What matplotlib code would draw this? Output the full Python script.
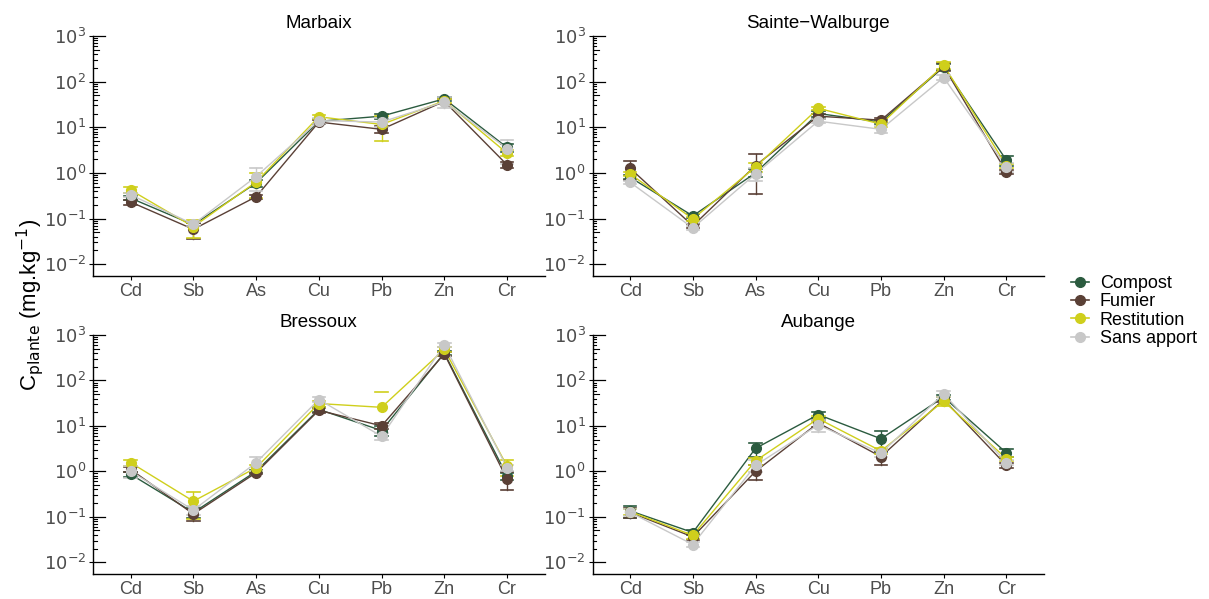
import numpy as np
import matplotlib
matplotlib.use("Agg")
import matplotlib.pyplot as plt
from matplotlib.lines import Line2D

plt.rcParams['font.family'] = ['Liberation Sans', 'DejaVu Sans']

# éléments en abscisse
elements = ['Cd', 'Sb', 'As', 'Cu', 'Pb', 'Zn', 'Cr']
traitements = ['Compost', 'Fumier', 'Restitution', 'Sans apport']
couleurs = ['#2b5b3f', '#5a4036', '#cfcf1c', '#c8c8c8']
sites = ['Marbaix', 'Sainte\u2212Walburge', 'Bressoux', 'Aubange']

# moyennes (mg/kg) par site et par traitement
marbaix_moy = {
    'Compost':     [0.28, 0.073, 0.60, 13.5, 17.5, 42, 3.6],
    'Fumier':      [0.23, 0.058, 0.30, 13.0, 9.0, 37, 1.5],
    'Restitution': [0.42, 0.066, 0.63, 17.0, 11.5, 38, 2.7],
    'Sans apport': [0.33, 0.075, 0.83, 14.0, 13.0, 36, 3.4],
}
marbaix_sd = {
    'Compost':     [0.03, 0.006, 0.11, 1.5, 2.0, 4, 0.7],
    'Fumier':      [0.03, 0.022, 0.03, 1.5, 1.5, 4, 0.2],
    'Restitution': [0.06, 0.028, 0.35, 1.5, 6.5, 4, 0.4],
    'Sans apport': [0.03, 0.008, 0.43, 2.0, 3.0, 10, 1.8],
}

walburge_moy = {
    'Compost':     [0.80, 0.114, 1.00, 20.0, 13.0, 210, 1.9],
    'Fumier':      [1.26, 0.069, 1.45, 17.5, 14.3, 215, 1.05],
    'Restitution': [0.95, 0.098, 1.35, 26.0, 11.7, 229, 1.45],
    'Sans apport': [0.62, 0.062, 0.95, 13.6, 9.0, 123, 1.35],
}
walburge_sd = {
    'Compost':     [0.08, 0.010, 0.20, 3.0, 1.5, 30, 0.5],
    'Fumier':      [0.55, 0.008, 1.10, 2.0, 1.5, 40, 0.12],
    'Restitution': [0.10, 0.012, 0.30, 2.0, 1.5, 40, 0.15],
    'Sans apport': [0.05, 0.006, 0.30, 1.5, 1.5, 15, 0.3],
}

bressoux_moy = {
    'Compost':     [0.86, 0.124, 1.00, 23.0, 7.9, 400, 0.79],
    'Fumier':      [1.10, 0.115, 0.93, 22.0, 10.0, 385, 0.67],
    'Restitution': [1.55, 0.220, 1.20, 31.0, 25.6, 485, 1.3],
    'Sans apport': [1.00, 0.140, 1.55, 38.0, 5.9, 605, 1.2],
}
bressoux_sd = {
    'Compost':     [0.10, 0.030, 0.08, 3.0, 2.0, 40, 0.15],
    'Fumier':      [0.15, 0.035, 0.06, 3.0, 1.5, 40, 0.28],
    'Restitution': [0.22, 0.130, 0.20, 5.0, 30.0, 60, 0.5],
    'Sans apport': [0.30, 0.030, 0.55, 5.0, 1.0, 70, 0.2],
}

aubange_moy = {
    'Compost':     [0.135, 0.045, 3.2, 17.7, 5.2, 43, 2.55],
    'Fumier':      [0.125, 0.036, 1.0, 11.6, 2.1, 38, 1.35],
    'Restitution': [0.130, 0.039, 1.7, 14.4, 2.8, 35, 1.9],
    'Sans apport': [0.125, 0.0245, 1.35, 10.5, 2.5, 51, 1.55],
}
aubange_sd = {
    'Compost':     [0.04, 0.005, 1.1, 3.0, 2.5, 6, 0.5],
    'Fumier':      [0.03, 0.005, 0.35, 2.0, 0.7, 5, 0.15],
    'Restitution': [0.02, 0.006, 0.30, 2.0, 0.4, 8, 0.2],
    'Sans apport': [0.02, 0.003, 0.40, 3.0, 0.4, 8, 0.2],
}

donnees = [(marbaix_moy, marbaix_sd), (walburge_moy, walburge_sd),
           (bressoux_moy, bressoux_sd), (aubange_moy, aubange_sd)]

W, H = 1209, 599
fig = plt.figure(figsize=(W / 100, H / 100), dpi=100)

# positions des panneaux en pixels (gauche, haut, droite, bas)
boites = [(93, 36, 544.7, 276), (592.5, 36, 1044, 276),
          (93, 335, 544.7, 574), (592.5, 335, 1044, 574)]

gris = '#4d4d4d'
x = np.arange(len(elements))

for (moy, sd), site, (g, h, d, b) in zip(donnees, sites, boites):
    ax = fig.add_axes([g / W, 1 - b / H, (d - g) / W, (b - h) / H])
    for trt, col in zip(traitements, couleurs):
        m = np.array(moy[trt])
        s = np.array(sd[trt])
        ax.plot(x, m, color=col, lw=1.0, zorder=2)
        ax.plot(x, m, 'o', color=col, ms=7, zorder=3)
        bas = m - s
        haut = m + s
        # barre d'erreur ; si la borne basse est négative, seule la barre haute reste
        for xi, lo, hi in zip(x, bas, haut):
            ax.plot([xi - 0.1, xi + 0.1], [hi, hi], color=col, lw=1.2, zorder=2)
            if lo > 0:
                ax.plot([xi, xi], [lo, hi], color=col, lw=1.0, zorder=2)
                ax.plot([xi - 0.1, xi + 0.1], [lo, lo], color=col, lw=1.2, zorder=2)

    ax.set_yscale('log')
    ax.set_ylim(10 ** -2.26, 1000)
    ax.set_xlim(-0.6, 6.6)
    ax.set_xticks(x)
    ax.set_xticklabels(elements)
    ax.set_yticks([1e-2, 1e-1, 1, 10, 100, 1000])
    ax.set_yticklabels([r'$10^{-2}$', r'$10^{-1}$', r'$10^{0}$',
                        r'$10^{1}$', r'$10^{2}$', r'$10^{3}$'])
    ax.yaxis.set_minor_locator(matplotlib.ticker.NullLocator())
    ax.tick_params(axis='both', colors='black', labelcolor=gris, labelsize=13,
                   width=0.8, length=3, direction='out', pad=2)
    for sp in ['top', 'right']:
        ax.spines[sp].set_visible(False)
    for sp in ['left', 'bottom']:
        ax.spines[sp].set_linewidth(1.0)

    # graduations logarithmiques internes
    trans = ax.get_yaxis_transform()
    for k in range(-2, 3 + 1):
        ax.plot([0, 0.027], [10 ** k, 10 ** k], color='black', lw=0.9,
                transform=trans, clip_on=False, zorder=4)
        if k < 3:
            for j in range(2, 10):
                long = 0.014 if j == 5 else 0.008
                ax.plot([0, long], [j * 10 ** k, j * 10 ** k], color='black', lw=0.8,
                        transform=trans, clip_on=False, zorder=4)

    ax.set_title(site, fontsize=13.5, color='black', pad=6)

fig.text(30 / W, 1 - 305 / H, r'C$_{\mathrm{plante}}$ (mg.kg$^{-1}$)',
         rotation=90, ha='center', va='center', fontsize=16)

poignees = [Line2D([0], [0], color=c, lw=1.2, marker='o', ms=7) for c in couleurs]
fig.legend(poignees, traitements, loc='center left',
           bbox_to_anchor=(1062 / W, 1 - 311 / H), frameon=False,
           fontsize=13, handlelength=1.0, handletextpad=0.6, labelspacing=0.08,
           borderpad=0)

fig.savefig('out.png', dpi=100)
